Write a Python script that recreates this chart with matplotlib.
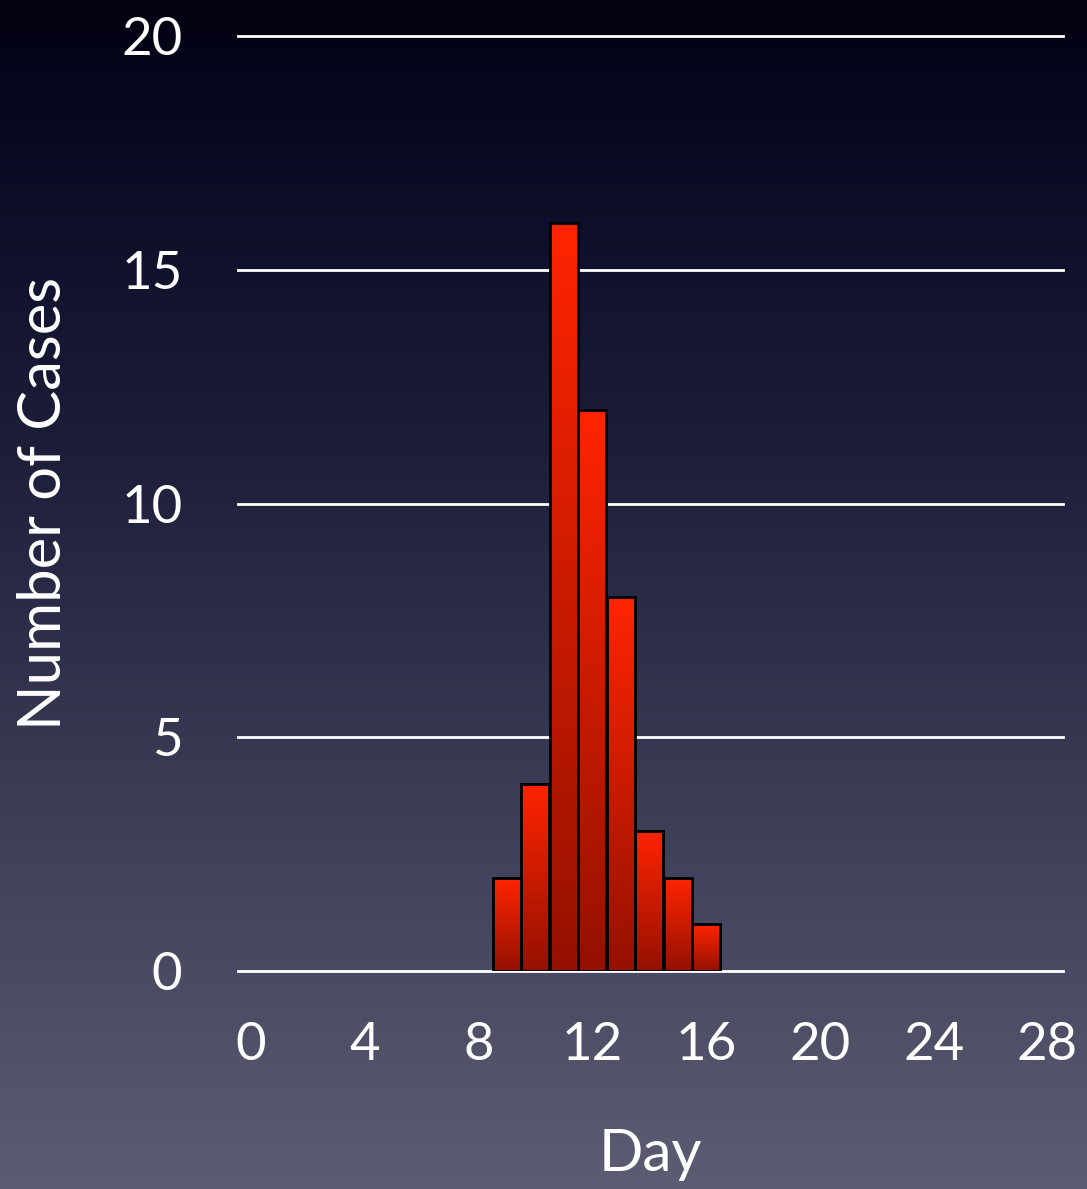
import matplotlib.pyplot as plt
import numpy as np
from matplotlib.colors import LinearSegmentedColormap

plt.rcParams['font.family'] = ['Lato', 'DejaVu Sans']

# 일별 발생 건수
days = [9, 10, 11, 12, 13, 14, 15, 16]
cases = [2, 4, 16, 12, 8, 3, 2, 1]
x_ticks = [0, 4, 8, 12, 16, 20, 24, 28]
y_ticks = [0, 5, 10, 15, 20]

fig = plt.figure(figsize=(10.87, 11.89), dpi=100)

# 배경 그라데이션 (위: 짙은 남색, 아래: 회청색)
bg = fig.add_axes([0, 0, 1, 1], zorder=-10)
bg_cmap = LinearSegmentedColormap.from_list(
    'bg', [(0.0, '#5c5d73'), (0.35, '#393a54'), (0.62, '#1d1e3a'),
           (0.9, '#070822'), (1.0, '#020210')])
grad = np.linspace(0, 1, 512).reshape(-1, 1)
bg.imshow(grad, cmap=bg_cmap, aspect='auto', origin='lower', extent=[0, 1, 0, 1])
bg.axis('off')

ax = fig.add_axes([0.219, 0.1833, 0.759, 0.7864])
ax.set_facecolor('none')

for y in y_ticks:
    ax.axhline(y, color='white', lw=2, zorder=1, clip_on=False)

# 막대: 위는 밝은 빨강, 아래는 어두운 빨강
bar_cmap = LinearSegmentedColormap.from_list('bar', ['#951100', '#ff2400'])
bars = ax.bar(days, cases, width=0.98, color='none', edgecolor='black', lw=2, zorder=3)
for b in bars:
    x0, w, h = b.get_x(), b.get_width(), b.get_height()
    im = ax.imshow(np.linspace(0, 1, 256).reshape(-1, 1), cmap=bar_cmap,
                   aspect='auto', origin='lower', extent=[x0, x0 + w, 0, h], zorder=2)
    im.set_clip_path(b)
ax.set_xlim(-0.45, 28.55)
ax.set_ylim(0, 20)

ax.set_xticks(x_ticks)
ax.set_yticks(y_ticks)
ax.tick_params(length=0, colors='white', labelsize=38)
ax.tick_params(axis='x', pad=37)
ax.tick_params(axis='y', pad=40)
for s in ax.spines.values():
    s.set_visible(False)

ax.set_xlabel('Day', color='white', fontsize=42, labelpad=42)
ax.set_ylabel('Number of Cases', color='white', fontsize=43, labelpad=36)

fig.savefig('out.png', dpi=100)
